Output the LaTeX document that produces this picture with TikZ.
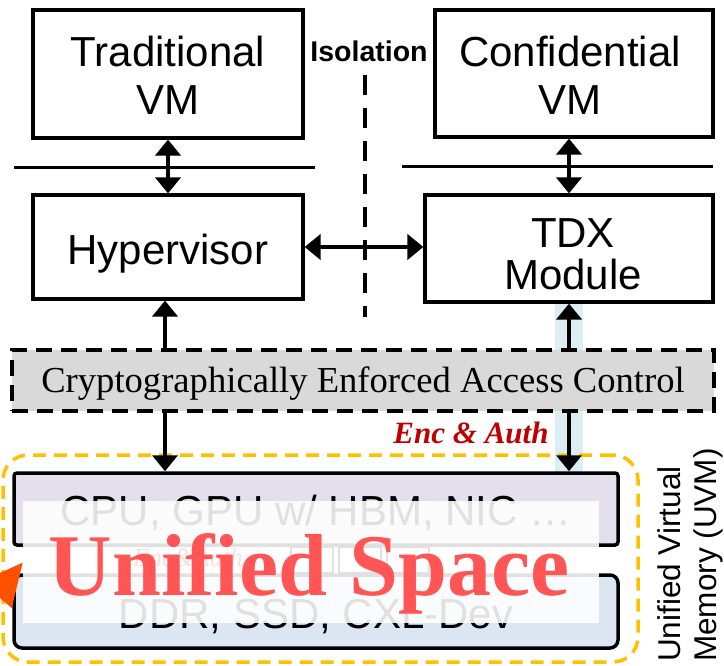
\documentclass[tikz,border=0pt]{standalone}
\usepackage{fontspec}
\setmainfont{Liberation Sans}
\newfontfamily\serifR{Liberation Serif}
\usetikzlibrary{arrows.meta,calc}
\definecolor{cpuF}{HTML}{E4DFEC}
\definecolor{ddrF}{HTML}{DCE6F2}
\definecolor{bandC}{HTML}{DAEEF3}
\definecolor{grayF}{HTML}{D9D9D9}
\definecolor{uvmC}{HTML}{FFC000}
\definecolor{encC}{HTML}{C00000}
\definecolor{usC}{RGB}{255,85,85}
\definecolor{tipC}{HTML}{FF5000}
\tikzset{
  box/.style={draw, line width=3.2pt, fill=white, inner sep=0pt},
  lbl/.style={font=\fontsize{42}{48}\selectfont, inner sep=0pt, anchor=base},
  arr/.style={line width=4.5pt, -{Triangle[width=25pt,length=16pt]}},
  dbl/.style={line width=4.5pt, {Triangle[width=25pt,length=16pt]}-{Triangle[width=25pt,length=16pt]}},
  sepline/.style={line width=3pt},
}
\begin{document}
\begin{tikzpicture}[x=1pt,y=-1pt]
\useasboundingbox (0,0) rectangle (724,666);

% light blue band behind the right arrows
\node[fill=bandC, inner sep=0pt, minimum width=28pt, minimum height=171pt] (band) at (569,387.5) {};

% top boxes
\node[box, minimum width=270pt, minimum height=128pt] (tvm) at (168,74) {};
\node[lbl] (tvm1) at (168,67) {Traditional};
\node[lbl] (tvm2) at (168,115) {VM};
\node[box, minimum width=278pt, minimum height=127pt] (cvm) at (574,73.5) {};
\node[lbl] (cvm1) at (570,67) {Confidential};
\node[lbl] (cvm2) at (570,115) {VM};

% middle boxes
\node[box, minimum width=270pt, minimum height=104pt] (hyp) at (168,247) {};
\node[lbl] (hyp1) at (168,265) {Hypervisor};
\node[box, minimum width=288pt, minimum height=107pt] (tdx) at (569,248.5) {};
\node[lbl] (tdx1) at (573,248) {TDX};
\node[lbl] (tdx2) at (573,290) {Module};

% separator lines
\coordinate (sl1) at (14,168); \coordinate (sl2) at (315,168);
\coordinate (sr1) at (402,167); \coordinate (sr2) at (713,167);
\draw[sepline] (sl1) -- (sl2);
\draw[sepline] (sr1) -- (sr2);

% isolation
\node[font=\bfseries\fontsize{28.5}{30}\selectfont, inner sep=0pt, anchor=base] (iso) at (369,62) {Isolation};
\coordinate (isoT) at (365,75); \coordinate (isoB) at (365,317);
\draw[line width=4pt, dash pattern=on 20pt off 13pt] (isoT) -- (isoB);

% crypto access control box
\node[draw, fill=grayF, line width=4pt, dash pattern=on 16pt off 9pt, inner sep=0pt,
      minimum width=702pt, minimum height=61pt, text height=24pt, text depth=0pt,
      font=\serifR\fontsize{36.6}{40}\selectfont] (cac) at (363,380.5)
      {Cryptographically Enforced Access Control};

% enc & auth label
\node[font=\serifR\bfseries\itshape\fontsize{31}{34}\selectfont, text=encC, inner sep=0pt, anchor=base] (enc) at (471,443) {Enc \& Auth};

% unified virtual memory region
\node[draw=uvmC, line width=3.5pt, dash pattern=on 13pt off 8pt, rounded corners=25pt,
      inner sep=0pt, minimum width=635pt, minimum height=207pt] (uvm) at (320.5,558.5) {};
\node[draw, line width=3.5pt, fill=cpuF, rounded corners=3pt, inner sep=0pt,
      minimum width=604pt, minimum height=72pt] (cpu) at (316,509) {};
\node[lbl] (cpu1) at (316,525) {CPU, GPU w/ HBM, NIC …};
\node[draw, line width=3.5pt, fill=ddrF, rounded corners=8pt, inner sep=0pt,
      minimum width=604pt, minimum height=73pt] (ddr) at (316,611.5) {};
\node[lbl] (ddr1) at (316,628) {DDR, SSD, CXL-Dev};

% hidden middle layer (faint under the veil)
\node[font=\serifR\itshape\fontsize{26}{28}\selectfont, text=encC, inner sep=0pt, anchor=base] (enc2) at (188,566) {Enc\&Auth};
\node[draw, line width=2pt, inner sep=0pt, minimum width=42pt, minimum height=26pt] (m1) at (312,560) {};
\node[draw, line width=2pt, inner sep=0pt, minimum width=42pt, minimum height=26pt] (m2) at (360,560) {};
\node[draw, line width=2pt, inner sep=0pt, minimum width=42pt, minimum height=26pt] (m3) at (408,560) {};

% connectors
\coordinate (xl) at (165,0);
\coordinate (xr) at (569,0);
\draw[dbl] (tvm.south) -- (hyp.north);
\draw[dbl] (tdx.north |- cvm.south) -- (tdx.north);
\draw[dbl] (hyp.east) -- (hyp.east -| tdx.west);
\draw[arr] (cac.north -| xl) -- (hyp.south -| xl);
\draw[arr] (cac.south -| xl) -- (cpu.north -| xl);
\draw[arr] (cac.north -| xr) -- (tdx.south -| xr);
\draw[arr] (cac.south -| xr) -- (cpu.north -| xr);

% UVM side label
\node[rotate=90, anchor=base west, inner sep=0pt, font=\fontsize{31.5}{34}\selectfont] (uvmL1) at (680,662) {Unified Virtual};
\node[rotate=90, anchor=base west, inner sep=0pt, font=\fontsize{31.5}{34}\selectfont] (uvmL2) at (716,662) {Memory (UVM)};

% veil and overlay title
\node[fill=white, fill opacity=0.88, inner sep=0pt, minimum width=576pt, minimum height=122pt] (veil) at (311,562) {};
\node[font=\serifR\bfseries\fontsize{88}{90}\selectfont, text=usC, inner sep=0pt, anchor=base] (us) at (309,595) {Unified Space};

% orange pointer tip
\fill[tipC] (22.7,562.7) -- (0,573) -- (0,598) -- (11.7,608) -- cycle;
\end{tikzpicture}
\end{document}
